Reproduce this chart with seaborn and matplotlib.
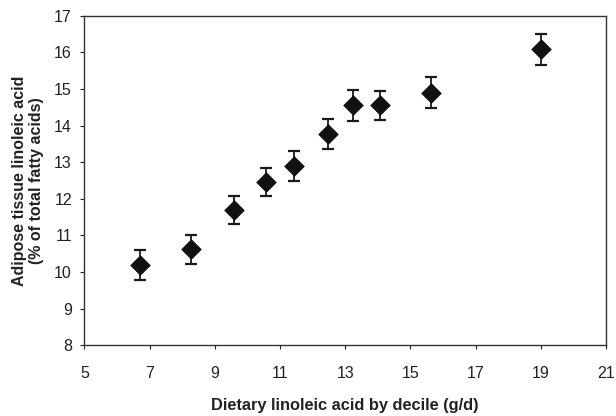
import matplotlib
matplotlib.use("Agg")
import matplotlib.pyplot as plt
import seaborn as sns
import pandas as pd

# Data
dietary_la = [6.70, 8.27, 9.58, 10.58, 11.42, 12.47, 13.23, 14.06, 15.62, 19.01]
adipose_la = [10.19, 10.62, 11.70, 12.46, 12.90, 13.77, 14.55, 14.55, 14.90, 16.08]
sem = [0.40, 0.40, 0.39, 0.39, 0.40, 0.41, 0.41, 0.39, 0.42, 0.42]
x_ticks = [5, 7, 9, 11, 13, 15, 17, 19, 21]
y_ticks = [8, 9, 10, 11, 12, 13, 14, 15, 16, 17]

df = pd.DataFrame({"x": dietary_la, "y": adipose_la, "err": sem})

sns.set_style("ticks")
plt.rcParams["font.family"] = ["Liberation Sans", "DejaVu Sans"]

fig = plt.figure(figsize=(6.16, 4.16), dpi=100)
ax = fig.add_axes([0.137, 0.170, 0.847, 0.792])

ax.errorbar(df["x"], df["y"], yerr=df["err"], fmt="none", ecolor="#1a1a1a",
            elinewidth=1.3, capsize=4.5, capthick=1.6, zorder=2)
sns.scatterplot(data=df, x="x", y="y", marker="D", s=100, color="#111111",
                edgecolor="#111111", linewidth=0.5, ax=ax, zorder=3)

ax.set_xlim(5, 21)
ax.set_ylim(8, 17)
ax.set_xticks(x_ticks)
ax.set_yticks(y_ticks)
ax.tick_params(axis="x", length=3, width=0.8, pad=12, labelsize=11.5, colors="#222222")
ax.tick_params(axis="y", length=3, width=0.8, pad=6, labelsize=11.5, colors="#222222")

for s in ax.spines.values():
    s.set_visible(True)
    s.set_color("#333333")
    s.set_linewidth(1.0)

ax.set_xlabel("Dietary linoleic acid by decile (g/d)", fontsize=11.8, fontweight="bold",
              labelpad=12, color="#222222")
ax.set_ylabel("Adipose tissue linoleic acid\n(% of total fatty acids)", fontsize=11.5,
              fontweight="bold", labelpad=7, color="#222222", linespacing=1.15)

fig.savefig("out.png", dpi=100)
